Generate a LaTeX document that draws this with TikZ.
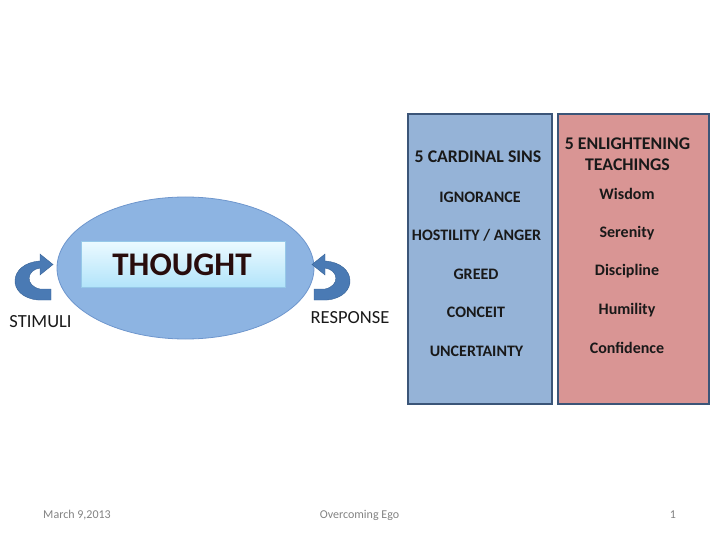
\documentclass[tikz,border=0pt]{standalone}
\usepackage{fontspec}
\setmainfont{Carlito}
\usetikzlibrary{shapes.geometric}
\definecolor{ellfill}{RGB}{141,180,226}
\definecolor{elldraw}{RGB}{110,150,205}
\definecolor{arrowblue}{RGB}{74,122,180}
\definecolor{arrowdark}{RGB}{55,98,150}
\definecolor{boxtop}{RGB}{236,250,255}
\definecolor{boxbot}{RGB}{178,228,250}
\definecolor{boxdraw}{RGB}{150,200,232}
\definecolor{sinfill}{RGB}{149,179,215}
\definecolor{teachfill}{RGB}{217,149,148}
\definecolor{colborder}{RGB}{59,85,120}
\definecolor{thoughttext}{RGB}{40,12,12}
\definecolor{footgray}{RGB}{130,130,130}
\tikzset{
  colbox/.style={draw=colborder, line width=2.2pt},
  item/.style={font=\fontsize{16}{19}\selectfont\bfseries, text=black!90, inner sep=0pt, align=center},
  head/.style={font=\fontsize{17.8}{21}\selectfont\bfseries, text=black!90, inner sep=0pt, align=center},
  sidelabel/.style={font=\fontsize{18.5}{20}\selectfont, text=black!90, inner sep=0pt},
  foot/.style={font=\fontsize{12}{13}\selectfont, text=footgray, inner sep=0pt},
  curvarrow/.style={fill=arrowblue, draw=arrowdark, line width=0.4pt},
}
\begin{document}
\begin{tikzpicture}[x=1pt,y=-1pt]
\useasboundingbox (0,0) rectangle (720,540);
% ellipse
\node[ellipse, draw=elldraw, fill=ellfill, line width=0.8pt, minimum width=257pt, minimum height=142pt, inner sep=0pt] (ell) at (185.5,268) {};
% THOUGHT box
\node[draw=boxdraw, top color=boxtop, bottom color=boxbot, minimum width=204pt, minimum height=46pt, inner sep=0pt, line width=0.8pt] (thoughtbox) at (183,264) {};
\node[text=thoughttext, font=\fontsize{33}{36}\selectfont\bfseries, inner sep=0pt] (thought) at (182,265) {THOUGHT};
% left curved arrow
\path[curvarrow] (40,261) -- (40,254) -- (53,264.5) -- (40,275) -- (40,268)
  .. controls (26,270) and (25,286) .. (40,289) -- (51,289) -- (51,300) -- (38,300)
  .. controls (6,297) and (8,263) .. (40,261) -- cycle;
% right curved arrow (mirror)
\path[curvarrow] (325,261) -- (325,254) -- (312,264.5) -- (325,275) -- (325,268)
  .. controls (339,270) and (340,286) .. (325,289) -- (314,289) -- (314,300) -- (327,300)
  .. controls (359,297) and (357,263) .. (325,261) -- cycle;
\node[sidelabel] (stimuli) at (40.5,322) {STIMULI};
\node[sidelabel] (response) at (350,318) {RESPONSE};
% columns
\draw[colbox, fill=sinfill] (408,114) rectangle (552,404);
\draw[colbox, fill=teachfill] (558,114) rectangle (709,404);
\node[head] (h1) at (478,157) {5 CARDINAL SINS};
\node[item] (s1) at (480,197) {IGNORANCE};
\node[item] (s2) at (476.5,235) {HOSTILITY / ANGER};
\node[item] (s3) at (476,274) {GREED};
\node[item] (s4) at (476,312) {CONCEIT};
\node[item] (s5) at (476.5,351) {UNCERTAINTY};
\node[head] (h2) at (627.5,154) {5 ENLIGHTENING\\TEACHINGS};
\node[item] (t1) at (627,194) {Wisdom};
\node[item] (t2) at (627,233) {Serenity};
\node[item] (t3) at (627,271) {Discipline};
\node[item] (t4) at (627,310) {Humility};
\node[item] (t5) at (627,348) {Confidence};
% footer
\node[foot] (date) at (77,515) {March 9,2013};
\node[foot] (title) at (359.5,515) {Overcoming Ego};
\node[foot] (page) at (673,515) {1};
\end{tikzpicture}
\end{document}
